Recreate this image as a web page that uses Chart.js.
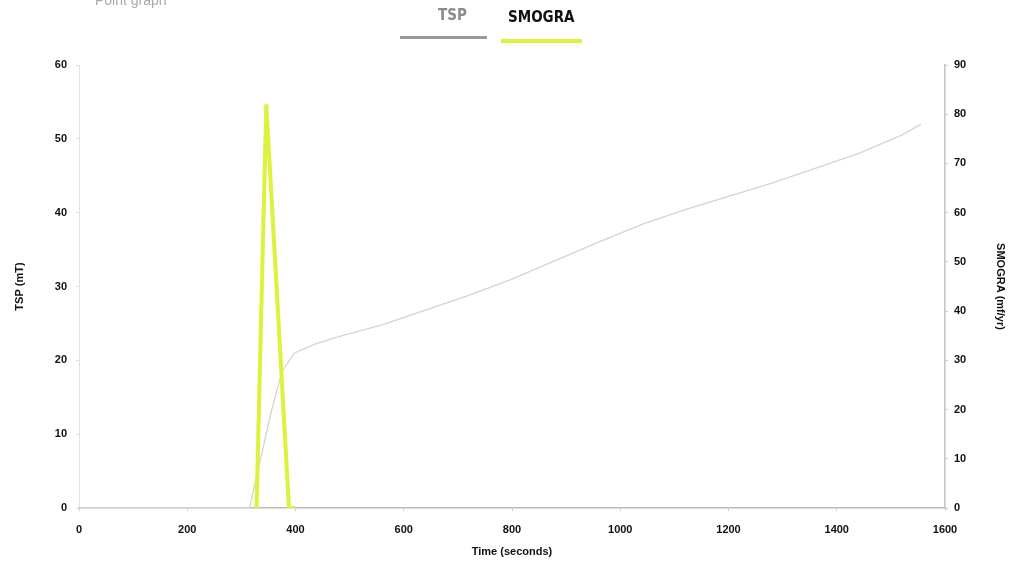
<!DOCTYPE html>
<html>
<head>
<meta charset="utf-8">
<script src="https://cdn.jsdelivr.net/npm/chart.js@4.4.0/dist/chart.umd.min.js"></script>
<style>
  body { margin: 0; background: #fff; }
  #wrap { position: relative; width: 1014px; height: 569px; overflow: hidden; }
  #topTitle { position: absolute; left: 95px; top: -8px; font: 14px "Liberation Sans", Arial, sans-serif; color: #aaa; }
  .leg { position: absolute; font: bold 15px "Liberation Sans Narrow", "DejaVu Sans Condensed", Arial, sans-serif; }
  .legLine { position: absolute; height: 3px; }
</style>
</head>
<body>
<div id="wrap">
  <div id="topTitle">Point graph</div>
  <div class="leg" style="left:438px; top:6px; color:#8a8a8a;">TSP</div>
  <div class="legLine" style="left:400px; top:36px; width:87px; background:#9a9a9a;"></div>
  <div class="leg" style="left:508px; top:8px; color:#111;">SMOGRA</div>
  <div class="legLine" style="left:501px; top:39px; width:81px; height:4px; background:#dcf23c;"></div>
  <canvas id="chart" width="1014" height="569"></canvas>
</div>
<script>
  // time in seconds
  const tspTime = [0, 315, 335, 355, 375, 398, 440, 480, 560, 640, 720, 800, 880, 960, 1040, 1120, 1200, 1280, 1360, 1440, 1520, 1556];
  const tspValues = [0, 0, 6.5, 13, 18.5, 21, 22.3, 23.2, 24.8, 26.8, 28.8, 31, 33.5, 36, 38.4, 40.4, 42.2, 44, 46, 48, 50.5, 52];

  const smograTime = [328, 346, 388, 400];
  const smograValues = [0, 82, 0, 0];

  const xTicks = [0, 200, 400, 600, 800, 1000, 1200, 1400, 1600];

  const toPoints = (xs, ys) => xs.map((x, i) => ({ x: x, y: ys[i] }));

  const tickFont = { family: '"Liberation Sans", Arial, sans-serif', size: 11, weight: 'bold' };

  const ctx = document.getElementById('chart').getContext('2d');
  new Chart(ctx, {
    type: 'line',
    data: {
      datasets: [
        {
          label: 'SMOGRA',
          data: toPoints(smograTime, smograValues),
          yAxisID: 'y1',
          borderColor: '#dcf23c',
          borderWidth: 4,
          pointRadius: 0,
          tension: 0,
        },
        {
          label: 'TSP',
          data: toPoints(tspTime, tspValues),
          yAxisID: 'y',
          borderColor: '#d4d4d4',
          borderWidth: 1.3,
          pointRadius: 0,
          tension: 0,
        },
      ],
    },
    options: {
      responsive: false,
      animation: false,
      layout: { padding: { top: 65, left: 0, right: 0, bottom: 0 } },
      plugins: { legend: { display: false }, tooltip: { enabled: false } },
      scales: {
        x: {
          type: 'linear',
          min: 0,
          max: 1600,
          afterBuildTicks: (scale) => { scale.ticks = xTicks.map(v => ({ value: v })); },
          afterFit: (scale) => { scale.height = 61; },
          ticks: { font: tickFont, color: '#111', padding: 12, callback: (v) => String(v) },
          grid: { drawOnChartArea: false, tickLength: 3, color: '#ccc' },
          border: { color: '#bbb', width: 1.5 },
          title: { display: true, text: 'Time (seconds)', font: tickFont, color: '#111', padding: { top: 0, bottom: 10 } },
        },
        y: {
          position: 'left',
          min: 0,
          max: 60,
          afterFit: (scale) => { scale.width = 79; },
          ticks: { stepSize: 10, font: tickFont, color: '#111', padding: 9 },
          grid: { drawOnChartArea: false, tickLength: 3, color: '#ddd' },
          border: { color: '#e2e2e2', width: 1 },
          title: { display: true, text: 'TSP (mT)', font: tickFont, color: '#111', padding: { top: 13, bottom: 0 } },
        },
        y1: {
          position: 'right',
          min: 0,
          max: 90,
          afterFit: (scale) => { scale.width = 69; },
          ticks: { stepSize: 10, font: tickFont, color: '#111', padding: 6 },
          grid: { drawOnChartArea: false, tickLength: 3, color: '#ccc' },
          border: { color: '#c4c4c4', width: 1.5 },
          title: { display: true, text: 'SMOGRA (mf/yr)', font: tickFont, color: '#111', padding: { top: 7, bottom: 0 } },
        },
      },
    },
  });
</script>
</body>
</html>
